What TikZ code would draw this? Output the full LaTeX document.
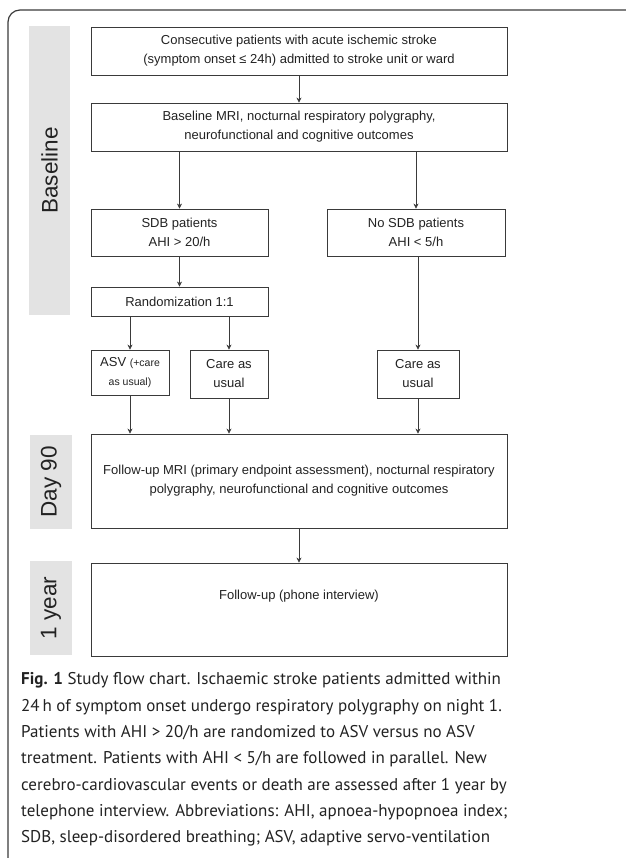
\documentclass[tikz,border=0pt]{standalone}
\usepackage{fontspec}
\setmainfont{Liberation Sans}
\newfontfamily\capfont{PT Sans}
\usepackage{xcolor}
\usetikzlibrary{arrows.meta, positioning, calc}
\definecolor{bandgray}{HTML}{E3E3E3}
\definecolor{linegray}{HTML}{3A3A3A}
\definecolor{inktext}{HTML}{222222}

\begin{document}
\begin{tikzpicture}[x=1pt, y=-1pt,
  every node/.style={text=inktext, font=\fontsize{13}{19}\selectfont},
  flowbox/.style={draw=linegray, line width=0.9pt, inner sep=2pt, align=center},
  phase/.style={fill=bandgray, rotate=90, inner sep=0pt, font=\fontsize{22.5}{26}\selectfont},
  flow/.style={-{Stealth[length=5pt, width=5pt]}, linegray, line width=0.6pt}]
  \useasboundingbox (0,0) rectangle (625,858);
  % frame of the figure
  \draw[linegray, line width=1.2pt, rounded corners=12pt] (8,880) -- (8,10) -- (650,10);

  % phases
  \node[phase, minimum width=289pt, minimum height=41pt] (base) at (49.5,170.5) {Baseline};
  \node[phase, minimum width=94pt, minimum height=42pt] (dninety) at (51,482) {Day 90};
  \node[phase, minimum width=94pt, minimum height=42pt] (oneyr) at (51,608) {1 year};

  % boxes
  \node[flowbox, minimum width=416pt, minimum height=48pt] (cons) at (299,51)
    {Consecutive patients with acute ischemic stroke\\(symptom onset ≤ 24h) admitted to stroke unit or ward};
  \node[flowbox, minimum width=416pt, minimum height=48pt] (bmri) at (299,127)
    {Baseline MRI, nocturnal respiratory polygraphy,\\neurofunctional and cognitive outcomes};
  \node[flowbox, minimum width=177pt, minimum height=47pt] (sdb) at (179.5,232.5)
    {SDB patients\\AHI > 20/h};
  \node[flowbox, minimum width=178pt, minimum height=47pt] (nosdb) at (416,232.5)
    {No SDB patients\\AHI < 5/h};
  \node[flowbox, minimum width=177pt, minimum height=29pt] (rand) at (179.5,301.5)
    {Randomization 1:1};
  \node[flowbox, minimum width=78pt, minimum height=45pt] (asv) at (130,372.5)
    {ASV {\fontsize{10.5}{16}\selectfont(+care}\\{\fontsize{10.5}{16}\selectfont as usual)}};
  \node[flowbox, minimum width=78pt, minimum height=48pt] (cau) at (229,374)
    {Care as\\usual};
  \node[flowbox, minimum width=82pt, minimum height=48pt] (caunosdb) at (418,374)
    {Care as\\usual};
  \node[flowbox, minimum width=416pt, minimum height=94pt] (fup) at (299,481)
    {Follow-up MRI (primary endpoint assessment), nocturnal respiratory\\polygraphy, neurofunctional and cognitive outcomes};
  \node[flowbox, minimum width=416pt, minimum height=93pt] (phone) at (299,609.5) {};
  \node (phonetxt) at (299,596) {Follow-up (phone interview)};

  % connectors
  \draw[flow] (cons) -- (bmri);
  \draw[flow] (bmri.south -| sdb) -- (sdb);
  \draw[flow] (bmri.south -| nosdb) -- (nosdb);
  \draw[flow] (sdb) -- (rand);
  \draw[flow] (rand.south -| asv) -- (asv);
  \draw[flow] (rand.south -| cau) -- (cau);
  \draw[flow] (nosdb.south -| caunosdb) -- (caunosdb);
  \draw[flow] (asv) -- (asv |- fup.north);
  \draw[flow] (cau) -- (cau |- fup.north);
  \draw[flow] (caunosdb) -- (caunosdb |- fup.north);
  \draw[flow] (fup) -- (phone);

  % caption
  \node[anchor=north west, align=left, inner sep=0pt, font=\capfont\fontsize{17}{26.3}\selectfont] (caption) at (21,672.5)
    {\textbf{Fig. 1} Study flow chart. Ischaemic stroke patients admitted within\\
     24\,h of symptom onset undergo respiratory polygraphy on night 1.\\
     Patients with AHI > 20/h are randomized to ASV versus no ASV\\
     treatment. Patients with AHI < 5/h are followed in parallel. New\\
     cerebro-cardiovascular events or death are assessed after 1 year by\\
     telephone interview. Abbreviations: AHI, apnoea-hypopnoea index;\\
     SDB, sleep-disordered breathing; ASV, adaptive servo-ventilation};
\end{tikzpicture}
\end{document}
